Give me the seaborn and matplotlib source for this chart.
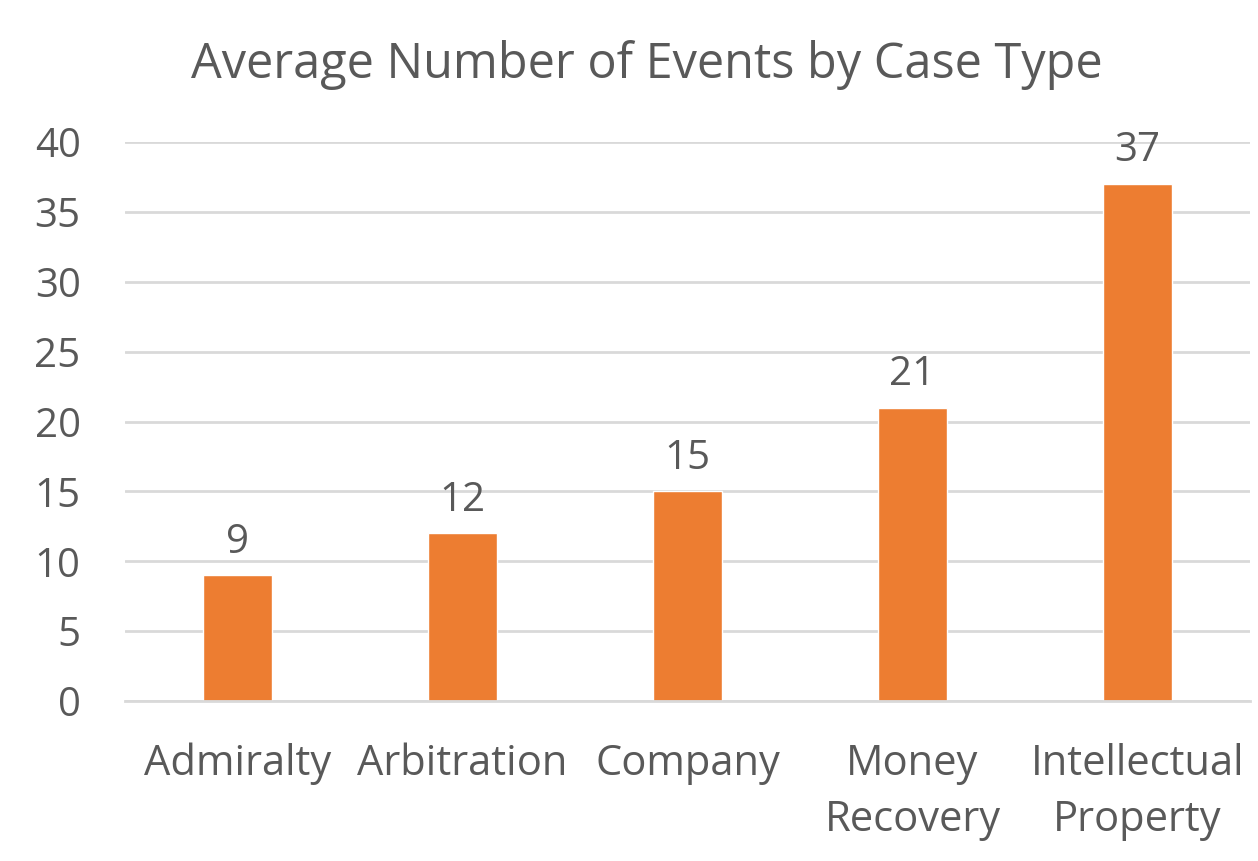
import matplotlib
matplotlib.use("Agg")
import matplotlib.pyplot as plt
import seaborn as sns
import pandas as pd

categories = ["Admiralty", "Arbitration", "Company", "Money\nRecovery", "Intellectual\nProperty"]
values = [9, 12, 15, 21, 37]
yticks = [0, 5, 10, 15, 20, 25, 30, 35, 40]
title = "Average Number of Events by Case Type"

sns.set_theme(style="white")
plt.rcParams["font.family"] = ["Open Sans", "DejaVu Sans"]
TXT = "#595959"

df = pd.DataFrame({"cat": categories, "val": values})
fig = plt.figure(figsize=(12.58, 8.61), dpi=100)
ax = fig.add_axes([0.0994, 0.1858, 0.8942, 0.6492])
sns.barplot(data=df, x="cat", y="val", color="#ED7D31", width=0.31, saturation=1, ax=ax)
ax.set_ylim(0, 40)
ax.set_xlim(-0.5, len(categories) - 0.5)
ax.set_yticks(yticks)
ax.yaxis.grid(True, color="#D9D9D9", linewidth=2)
ax.set_axisbelow(True)
for s in ["top", "right", "left"]:
    ax.spines[s].set_visible(False)
ax.spines["bottom"].set_color("#D9D9D9")
ax.spines["bottom"].set_linewidth(2)
ax.tick_params(axis="y", labelsize=29, colors=TXT, length=0, pad=32)
ax.tick_params(axis="x", labelsize=30, colors=TXT, length=0, pad=30)
for lab in ax.get_xticklabels():
    lab.set_linespacing(1.45)
ax.set_xlabel("")
ax.set_ylabel("")
for c in ax.containers:
    ax.bar_label(c, labels=[str(v) for v in values], fontsize=29, color=TXT, padding=9)
fig.text(0.514, 0.924, title, ha="center", va="center", fontsize=35, color=TXT)
fig.savefig("out.png", dpi=100)
